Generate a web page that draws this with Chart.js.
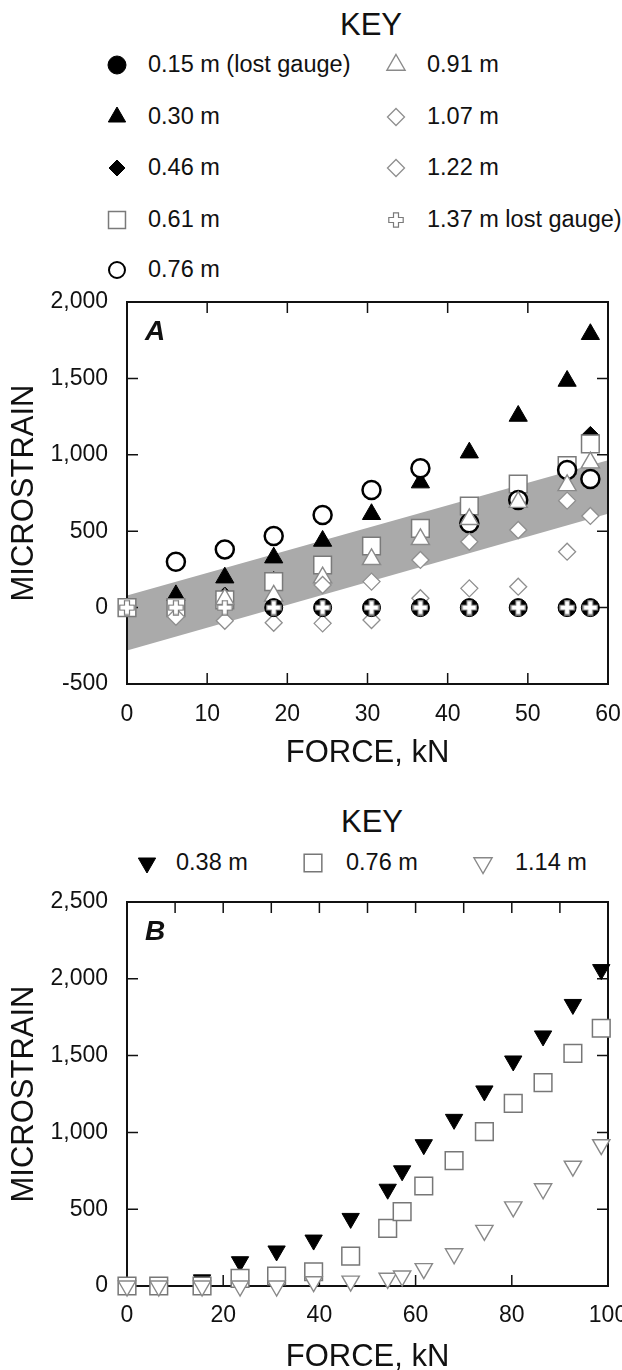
<!DOCTYPE html>
<html>
<head>
<meta charset="utf-8">
<script src="https://cdn.jsdelivr.net/npm/chart.js@4.4.1/dist/chart.umd.min.js"></script>
<style>
body { margin: 0; width: 622px; height: 1370px; position: relative; overflow: hidden; background: #fff;
       font-family: "Liberation Sans", Arial, sans-serif; color: #111; }
.key { position: absolute; font-size: 31px; line-height: 1; transform: translate(-50%, -50%); }
.item { position: absolute; font-size: 23.5px; line-height: 1; transform: translateY(-50%); white-space: nowrap; }
.mk { position: absolute; transform: translate(-50%, -50%); }
canvas.chart { position: absolute; left: 0; }
</style>
</head>
<body>
<div class="key" style="left:371px;top:24px">KEY</div>
<div class="key" style="left:372px;top:821px">KEY</div>
<div id="keys"></div>
<canvas id="chartA" class="chart" width="622" height="492" style="top:280px"></canvas>
<canvas id="chartB" class="chart" width="622" height="496" style="top:880px"></canvas>
<script>
// ---- panel A data (force kN vs microstrain, gauge distance) ----
const forceA   = [0, 6.1, 12.2, 18.3, 24.4, 30.5, 36.6, 42.7, 48.8, 54.9, 57.8];
const gauge015 = [null, null, null, 0, 0, 0, 0, 0, 0, 0, 0];
const gauge030 = [null, 80, 196, 327, 436, 611, 818, 1014, 1254, 1483, 1789];
const gauge046 = [null, null, 79, 180, null, null, null, null, null, null, 1130];
const gauge061 = [0, 0, 50, 170, 279, 403, 519, 665, 809, 930, 1071];
const gauge076 = [null, 300, 381, 469, 606, 770, 912, 552, 704, 900, 841];
const gauge091 = [null, null, 55, 77, 196, 316, 447, 578, 690, 800, 949];
const gauge107 = [null, null, null, null, 148, 170, 312, 431, 508, 700, 600];
const gauge122 = [null, -60, -86, -99, -103, -81, 61, 126, 137, 366, null];
const gauge137 = [0, 0, 0, 0, 0, 0, 0, 0, 0, 0, 0];
const bandForce = [0, 60];
const bandUpper = [80, 965];
const bandLower = [-280, 615];

// ---- panel B data ----
const forceB    = [0, 6.6, 15.6, 23.5, 31.1, 38.8, 46.5, 54.2, 57.2, 61.7, 68.0, 74.3, 80.3, 86.5, 92.7, 98.6];
const gauge038  = [null, null, 40, 158, 228, 299, 440, 630, 750, 920, 1085, 1270, 1465, 1628, 1833, 2060];
const gauge076B = [0, 0, 0, 50, 65, 93, 195, 375, 484, 651, 816, 1005, 1189, 1324, 1515, 1678];
const gauge114  = [0, 0, 0, 0, 0, 28, 32, 50, 65, 113, 210, 362, 515, 633, 780, 920];

// inward tick marks
const ticksA = { top: [10, 20, 30, 40, 50], bottom: [10, 20, 30, 40, 50], left: [0, 500, 1000, 1500], right: [0, 500, 1000, 1500] };
const ticksB = { top: [10, 20, 30, 40, 50, 60, 70, 80, 90], bottom: [20, 40, 60, 80], left: [500, 1000, 1500, 2000], right: [500, 1000, 1500, 2000] };

const FONT = '"Liberation Sans", Arial, sans-serif';
const INK = '#111';

function pts(xs, ys) {
  return xs.map((x, i) => ({ x: x, y: ys[i] }));
}

// hollow plus marker used for the 1.37 m gauge
function plusMarker() {
  const s = 16, a = 5.5, b = 10.5;
  const c = document.createElement('canvas');
  c.width = s; c.height = s;
  const g = c.getContext('2d');
  g.beginPath();
  g.moveTo(a, 0.8); g.lineTo(b, 0.8); g.lineTo(b, a); g.lineTo(s - 0.8, a);
  g.lineTo(s - 0.8, b); g.lineTo(b, b); g.lineTo(b, s - 0.8); g.lineTo(a, s - 0.8);
  g.lineTo(a, b); g.lineTo(0.8, b); g.lineTo(0.8, a); g.lineTo(a, a);
  g.closePath();
  g.fillStyle = '#fff'; g.fill();
  g.strokeStyle = '#7a7a7a'; g.lineWidth = 1.2; g.stroke();
  return c;
}
const plus = plusMarker();

const styles = {
  g015: { pointStyle: 'circle', pointRadius: 9, backgroundColor: '#000', borderColor: '#000', borderWidth: 1 },
  g030: { pointStyle: 'triangle', pointRadius: 10.5, backgroundColor: '#000', borderColor: '#000', borderWidth: 1 },
  g046: { pointStyle: 'rectRot', pointRadius: 8.5, backgroundColor: '#000', borderColor: '#000', borderWidth: 1 },
  g061: { pointStyle: 'rect', pointRadius: 12.5, backgroundColor: '#fff', borderColor: '#7a7a7a', borderWidth: 1.5 },
  g076: { pointStyle: 'circle', pointRadius: 9, backgroundColor: '#fff', borderColor: '#000', borderWidth: 2.5 },
  g091: { pointStyle: 'triangle', pointRadius: 10.5, backgroundColor: '#fff', borderColor: '#8a8a8a', borderWidth: 1.4 },
  g107: { pointStyle: 'rectRot', pointRadius: 8.5, backgroundColor: '#fff', borderColor: '#8f8f8f', borderWidth: 1.3 },
  g122: { pointStyle: 'rectRot', pointRadius: 8.5, backgroundColor: '#fff', borderColor: '#8f8f8f', borderWidth: 1.3 },
  g137: { pointStyle: plus, pointRadius: 8, backgroundColor: '#fff', borderColor: '#7a7a7a', borderWidth: 0 },
  g038: { pointStyle: 'triangle', rotation: 180, pointRadius: 10, backgroundColor: '#000', borderColor: '#000', borderWidth: 1 },
  g076B: { pointStyle: 'rect', pointRadius: 12.5, backgroundColor: '#fff', borderColor: '#777', borderWidth: 1.5 },
  g114: { pointStyle: 'triangle', rotation: 180, pointRadius: 10, backgroundColor: '#fff', borderColor: '#888', borderWidth: 1.4 }
};

function markerSet(label, xs, ys, st, order) {
  return Object.assign({
    label: label, data: pts(xs, ys), order: order, clip: false, showLine: false,
    pointHoverRadius: st.pointRadius, pointRotation: st.rotation || 0
  }, st, { pointBackgroundColor: st.backgroundColor, pointBorderColor: st.borderColor });
}

// frame + inward ticks + panel letter
function drawFrame(chart, o) {
  const { ctx, chartArea: a, scales } = chart;
  const x = scales.x, y = scales.y, len = 11;
  ctx.save();
  ctx.strokeStyle = INK;
  ctx.lineWidth = 1.5;
  ctx.beginPath();
  o.ticks.top.forEach(v => { const p = x.getPixelForValue(v); ctx.moveTo(p, a.top); ctx.lineTo(p, a.top + len); });
  o.ticks.bottom.forEach(v => { const p = x.getPixelForValue(v); ctx.moveTo(p, a.bottom); ctx.lineTo(p, a.bottom - len); });
  o.ticks.left.forEach(v => { const p = y.getPixelForValue(v); ctx.moveTo(a.left, p); ctx.lineTo(a.left + len, p); });
  o.ticks.right.forEach(v => { const p = y.getPixelForValue(v); ctx.moveTo(a.right, p); ctx.lineTo(a.right - len, p); });
  ctx.stroke();
  ctx.lineWidth = 2;
  ctx.strokeRect(a.left, a.top, a.right - a.left, a.bottom - a.top);
  ctx.fillStyle = INK;
  ctx.font = 'italic bold 28px ' + FONT;
  ctx.textBaseline = 'alphabetic';
  ctx.fillText(o.letter, a.left + 18, a.top + 38);
  ctx.restore();
}

const frameTicks = {
  id: 'frameTicks',
  beforeDatasetsDraw(chart, args, o) { if (o.afterIndex == null) drawFrame(chart, o); },
  afterDatasetDraw(chart, args, o) { if (args.index === o.afterIndex) drawFrame(chart, o); }
};

function axes(xMin, xMax, xStep, yMin, yMax, xHeight, xPad) {
  return {
    x: {
      type: 'linear', min: xMin, max: xMax,
      grid: { display: false, drawTicks: false }, border: { display: false },
      ticks: { stepSize: xStep, color: INK, font: { family: FONT, size: 23 }, padding: xPad, maxRotation: 0 },
      title: { display: true, text: 'FORCE, kN', color: INK, font: { family: FONT, size: 31 }, padding: 0 },
      afterFit(s) { s.height = xHeight; s.paddingLeft = 0; s.paddingRight = 0; }
    },
    y: {
      min: yMin, max: yMax,
      grid: { display: false, drawTicks: false }, border: { display: false },
      ticks: { stepSize: 500, color: INK, font: { family: FONT, size: 23 }, padding: 19,
               callback: v => v.toLocaleString('en-US') },
      title: { display: true, text: 'MICROSTRAIN', color: INK, font: { family: FONT, size: 31 }, padding: { top: 6, bottom: 0 } },
      afterFit(s) { s.width = 127; s.paddingTop = 0; s.paddingBottom = 0; }
    }
  };
}

const baseOptions = {
  responsive: false, animation: false, events: [],
  plugins: { legend: { display: false }, tooltip: { enabled: false } }
};

new Chart(document.getElementById('chartA'), {
  type: 'scatter',
  data: {
    datasets: [
      markerSet('1.37 m lost gauge)', forceA, gauge137, styles.g137, 0),
      markerSet('0.15 m (lost gauge)', forceA, gauge015, styles.g015, 1),
      markerSet('1.22 m', forceA, gauge122, styles.g122, 2),
      markerSet('1.07 m', forceA, gauge107, styles.g107, 3),
      markerSet('0.91 m', forceA, gauge091, styles.g091, 4),
      markerSet('0.76 m', forceA, gauge076, styles.g076, 5),
      markerSet('0.61 m', forceA, gauge061, styles.g061, 6),
      markerSet('0.30 m', forceA, gauge030, styles.g030, 7),
      markerSet('0.46 m', forceA, gauge046, styles.g046, 8),
      { type: 'line', label: 'band top', data: pts(bandForce, bandUpper), order: 9, fill: '+1',
        backgroundColor: '#aaaaaa', borderColor: 'rgba(0,0,0,0)', borderWidth: 0, pointRadius: 0, tension: 0 },
      { type: 'line', label: 'band bottom', data: pts(bandForce, bandLower), order: 10, fill: false,
        borderColor: 'rgba(0,0,0,0)', borderWidth: 0, pointRadius: 0, tension: 0 }
    ]
  },
  options: Object.assign({}, baseOptions, {
    layout: { padding: { top: 22, right: 14, bottom: 0, left: 0 } },
    scales: axes(0, 60, 10, -500, 2000, 88, 17),
    plugins: Object.assign({}, baseOptions.plugins, { frameTicks: { ticks: ticksA, letter: 'A', afterIndex: 9 } })
  }),
  plugins: [frameTicks]
});

new Chart(document.getElementById('chartB'), {
  type: 'scatter',
  data: {
    datasets: [
      markerSet('1.14 m', forceB, gauge114, styles.g114, 0),
      markerSet('0.76 m', forceB, gauge076B, styles.g076B, 1),
      markerSet('0.38 m', forceB, gauge038, styles.g038, 2)
    ]
  },
  options: Object.assign({}, baseOptions, {
    layout: { padding: { top: 22, right: 14, bottom: 0, left: 0 } },
    scales: axes(0, 100, 20, 0, 2500, 90, 16),
    plugins: Object.assign({}, baseOptions.plugins, { frameTicks: { ticks: ticksB, letter: 'B' } })
  }),
  plugins: [frameTicks]
});

// ---- keys (legend) ----
const keyItems = [
  { text: '0.15 m (lost gauge)', st: styles.g015, r: 9, mx: 117, tx: 148, y: 65 },
  { text: '0.30 m', st: styles.g030, r: 10, mx: 117, tx: 148, y: 117 },
  { text: '0.46 m', st: styles.g046, r: 8, mx: 117, tx: 148, y: 168 },
  { text: '0.61 m', st: styles.g061, r: 12, mx: 117, tx: 148, y: 220 },
  { text: '0.76 m', st: styles.g076, r: 8, mx: 117, tx: 148, y: 270, bw: 2 },
  { text: '0.91 m', st: styles.g091, r: 10.5, mx: 396, tx: 427, y: 65 },
  { text: '1.07 m', st: styles.g107, r: 8.5, mx: 396, tx: 427, y: 117 },
  { text: '1.22 m', st: styles.g122, r: 8.5, mx: 396, tx: 427, y: 168 },
  { text: '1.37 m lost gauge)', st: styles.g137, r: 8, mx: 396, tx: 427, y: 220 },
  { text: '0.38 m', st: styles.g038, r: 10, mx: 147, tx: 176, y: 863 },
  { text: '0.76 m', st: styles.g076B, r: 12.5, mx: 313, tx: 346, y: 863 },
  { text: '1.14 m', st: styles.g114, r: 10.5, mx: 483, tx: 515, y: 863 }
];
const keys = document.getElementById('keys');
keyItems.forEach(k => {
  const c = document.createElement('canvas');
  c.width = 30; c.height = 30;
  c.className = 'mk';
  c.style.left = k.mx + 'px';
  c.style.top = k.y + 'px';
  const g = c.getContext('2d');
  g.fillStyle = k.st.backgroundColor;
  g.strokeStyle = k.st.borderColor;
  g.lineWidth = k.bw || k.st.borderWidth;
  Chart.helpers.drawPoint(g, { pointStyle: k.st.pointStyle, radius: k.r, rotation: k.st.rotation || 0,
                               borderWidth: k.bw || k.st.borderWidth }, 15, 15);
  keys.appendChild(c);
  const t = document.createElement('div');
  t.className = 'item';
  t.style.left = k.tx + 'px';
  t.style.top = k.y + 'px';
  t.textContent = k.text;
  keys.appendChild(t);
});
</script>
</body>
</html>
